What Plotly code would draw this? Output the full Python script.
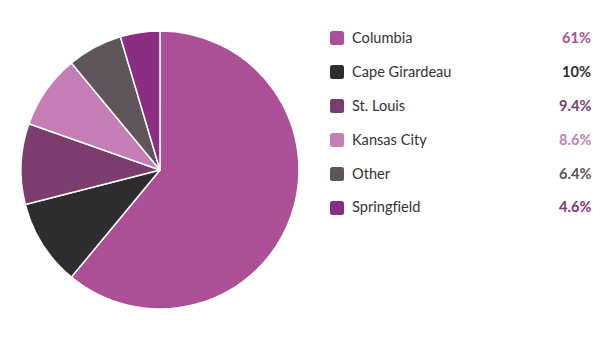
import plotly.graph_objects as go

categories = ["Columbia", "Cape Girardeau", "St. Louis", "Kansas City", "Other", "Springfield"]
values = [61, 10, 9.4, 8.6, 6.4, 4.6]
colors = ["#AD4F96", "#2F2C30", "#7A3D6E", "#C47EB5", "#5E5459", "#8B2D80"]

W, H = 600, 340

def px(x):
    return x / W

def py(y):
    return 1 - y / H

fig = go.Figure(go.Pie(
    labels=categories,
    values=values,
    marker=dict(colors=colors, line=dict(color="white", width=1.5)),
    sort=False,
    direction="clockwise",
    rotation=0,
    textinfo="none",
    hoverinfo="skip",
    showlegend=False,
    domain=dict(x=[px(21), px(299)], y=[py(309), py(31)]),
))

shapes = []
annotations = []
for i, (cat, val, col) in enumerate(zip(categories, values, colors)):
    cy = 38 + 34 * i
    x0, x1 = 330, 344
    y0, y1 = cy - 7, cy + 7
    r = 2.5
    path = (
        f"M {px(x0 + r)},{py(y0)} L {px(x1 - r)},{py(y0)} "
        f"Q {px(x1)},{py(y0)} {px(x1)},{py(y0 + r)} "
        f"L {px(x1)},{py(y1 - r)} Q {px(x1)},{py(y1)} {px(x1 - r)},{py(y1)} "
        f"L {px(x0 + r)},{py(y1)} Q {px(x0)},{py(y1)} {px(x0)},{py(y1 - r)} "
        f"L {px(x0)},{py(y0 + r)} Q {px(x0)},{py(y0)} {px(x0 + r)},{py(y0)} Z"
    )
    shapes.append(dict(type="path", xref="paper", yref="paper", path=path,
                       fillcolor=col, line=dict(width=0)))
    annotations.append(dict(x=px(350), y=py(cy - 1), xref="paper", yref="paper",
                            text=cat.replace("fi", "f\u200ci"), showarrow=False,
                            xanchor="left", yanchor="middle",
                            font=dict(family="Lato", size=14.6, color="#333333")))
    annotations.append(dict(x=px(593), y=py(cy - 1), xref="paper", yref="paper",
                            text=f"<b>{val:g}%</b>", showarrow=False, xanchor="right",
                            yanchor="middle",
                            font=dict(family="Lato", size=14.6, color=col)))

fig.update_layout(
    width=W, height=H,
    margin=dict(l=0, r=0, t=0, b=0),
    paper_bgcolor="white",
    plot_bgcolor="white",
    shapes=shapes,
    annotations=annotations,
)

fig.write_html("out.html")
